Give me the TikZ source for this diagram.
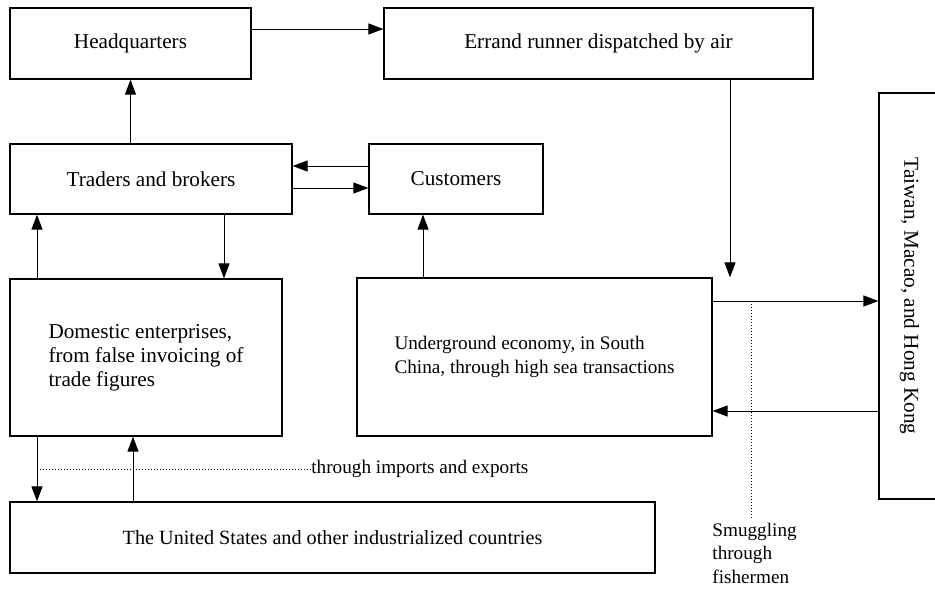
\documentclass[tikz,border=0pt]{standalone}
\usepackage{fontspec}
\setmainfont{Liberation Serif}
\usetikzlibrary{arrows.meta}
\tikzset{
  box/.style={draw, line width=0.6pt, inner sep=0pt, font=\fontsize{10.6}{12}\selectfont},
  small/.style={font=\fontsize{9.6}{11.6}\selectfont},
  lbl/.style={inner sep=0pt, small},
  arr/.style={-{Triangle[length=7.5pt,width=5.5pt]}, line width=0.5pt},
  dots/.style={dash pattern=on 0.5pt off 1pt, line width=0.5pt},
}
\begin{document}
\begin{tikzpicture}[x=0.5pt, y=-0.5pt]
            \useasboundingbox (0,0) rectangle (935,589);

            \node[box, minimum width=120.5pt, minimum height=35.5pt] (hq) at (130.5,43.5) {Headquarters};
            \node[box, minimum width=214.5pt, minimum height=35.5pt] (errand) at (598.5,43.5) {Errand runner dispatched by air};
            \node[box, minimum width=141pt, minimum height=35pt] (traders) at (151,179) {Traders and brokers};
            \node[box, minimum width=87pt, minimum height=35pt] (customers) at (456,179) {Customers};
            \node[box, minimum width=136pt, minimum height=78.5pt, align=left] (domestic) at (146,357.5)
                {Domestic enterprises,\\from false invoicing of\\trade figures};
            \node[box, small, minimum width=177.5pt, minimum height=79pt, align=left] (under) at (534.5,357)
                {Underground economy, in South\\China, through high sea transactions};
            \node[box, font=\fontsize{10.1}{12}\selectfont, minimum width=322.5pt, minimum height=35.5pt] (us) at (332.5,537.5)
                {The United States and other industrialized countries};
            \node[box, rotate=-90, minimum width=203pt, minimum height=30.5pt] (taiwan) at (909.5,296)
                {Taiwan, Macao, and Hong Kong};

            \node[lbl, anchor=west] (imp) at (311,469) {through imports and exports};
            \node[lbl, anchor=north west, align=left] (smug) at (712,523) {Smuggling\\through\\fishermen};
            \coordinate (fork) at (751,301);

            \draw[arr] (hq.east |- 0,29) -- (errand.west |- 0,29);
            \draw[arr] (hq.south |- traders.north) -- (hq.south);
            \draw[arr] (customers.west |- 0,166) -- (traders.east |- 0,166);
            \draw[arr] (traders.east |- 0,188) -- (customers.west |- 0,188);
            \draw[arr] (domestic.north -| 37,0) -- (traders.south -| 37,0);
            \draw[arr] (traders.south -| 224,0) -- (domestic.north -| 224,0);
            \draw[arr] (under.north -| 423,0) -- (customers.south -| 423,0);
            \draw[arr] (errand.south -| 730,0) -- (under.north -| 730,0);
            \draw[arr] (under.east |- fork) -- (taiwan.south |- fork);
            \draw[arr] (taiwan.south |- 0,411) -- (under.east |- 0,411);
            \draw[arr] (domestic.south -| 37,0) -- (us.north -| 37,0);
            \draw[arr] (us.north -| 133,0) -- (domestic.south -| 133,0);

            \draw[dots] (imp.west -| 37,0) -- (imp.west);
            \draw[dots] (fork) -- ([yshift=2pt]smug.north -| fork);
        \end{tikzpicture}
\end{document}
